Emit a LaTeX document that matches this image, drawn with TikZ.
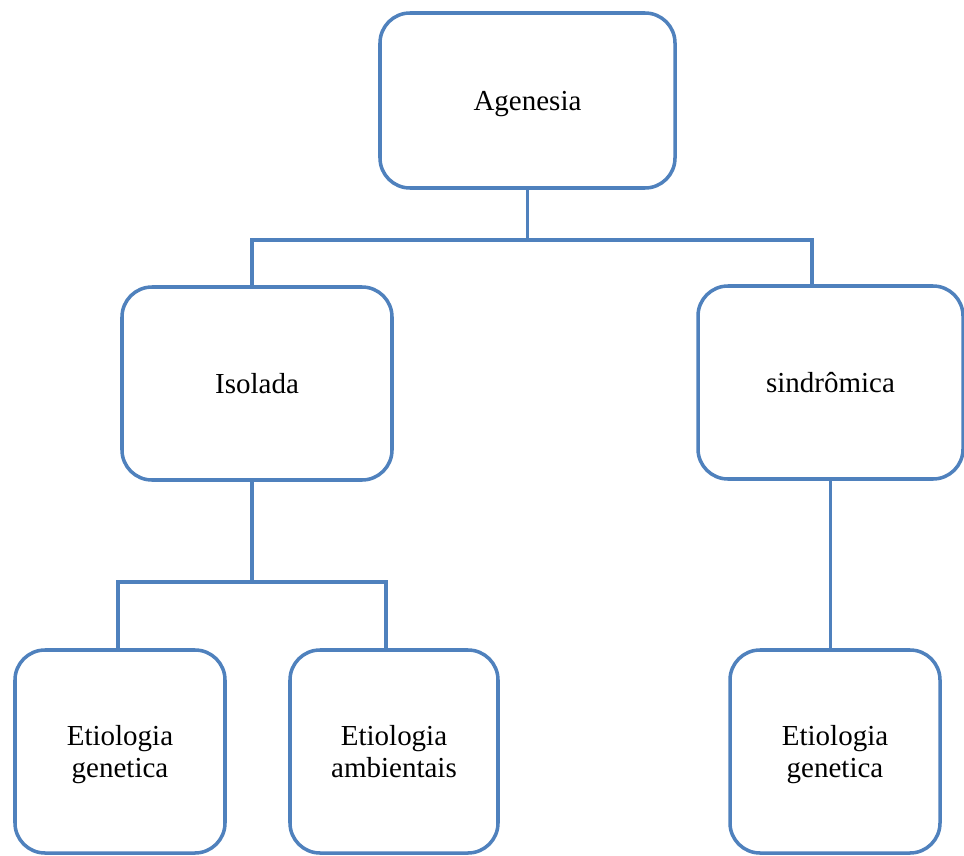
\documentclass[tikz,border=0pt]{standalone}
\usepackage{fontspec}
\setmainfont{Liberation Serif}
\definecolor{boxblue}{RGB}{79,129,189}
\tikzset{
  box/.style={draw=boxblue,line width=2pt,rounded corners=0.6cm,fill=white,
    align=center,inner sep=0pt,text depth=0pt,font=\fontsize{16.5}{18.5}\selectfont},
  link/.style={draw=boxblue,line width=2pt}
}
\begin{document}
\begin{tikzpicture}
\useasboundingbox (0,0) rectangle (19.28,-17.12);
            % Boxes
\node[box,minimum width=5.9cm,minimum height=3.5cm]  (agen) at (10.55,-2.01) {Agenesia};
\node[box,minimum width=5.4cm,minimum height=3.86cm] (iso)  at (5.14,-7.67)  {Isolada};
\node[box,minimum width=5.3cm,minimum height=3.86cm] (sind) at (16.61,-7.65) {sindrômica};
\node[box,minimum width=4.2cm,minimum height=4.06cm] (genA) at (2.4,-15.03)  {Etiologia\\genetica};
\node[box,minimum width=4.16cm,minimum height=4.06cm] (amb) at (7.88,-15.03) {Etiologia\\ambientais};
\node[box,minimum width=4.2cm,minimum height=4.06cm] (genB) at (16.7,-15.03) {Etiologia\\genetica};
%Joints
\coordinate (bus1) at (10.6,-4.8);
\coordinate (bus2) at (5.04,-11.64);
%Links
\draw[link] (agen.south) -- (agen.south |- bus1);
\draw[link] ([xshift=-0.1cm]iso.north) |- (bus1) -| ([xshift=-0.37cm]sind.north);
\draw[link] ([xshift=-0.1cm]iso.south) -- (bus2);
\draw[link] ([xshift=-0.04cm]genA.north) |- (bus2) -| ([xshift=-0.16cm]amb.north);
\draw[link] (sind.south) -- (sind.south |- genB.north);
\end{tikzpicture}
\end{document}
